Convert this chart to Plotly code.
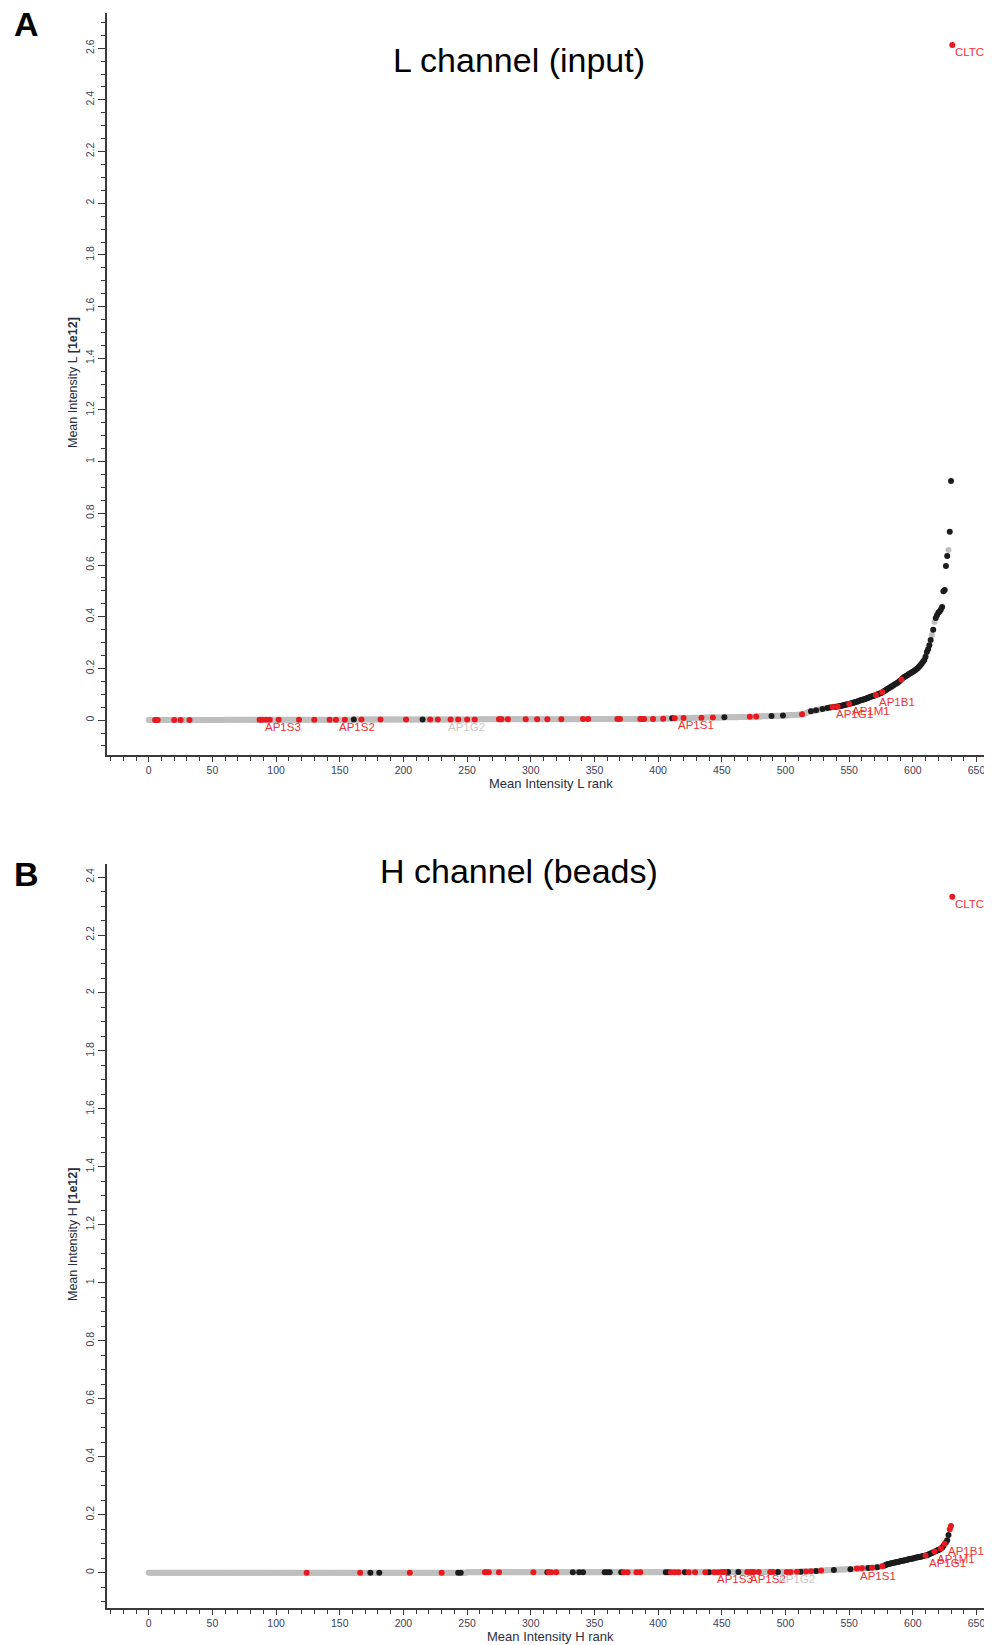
import plotly.graph_objects as go

# ---------------- Panel A : L channel (input) ----------------
# Mean intensity L, one value per rank 0..631, in units of 1e9 (= 0.001 x 1e12)
L_000_099 = [
    0,0,0,0,0,0,0,0,0,0,0,0,0,0,0,0,0,0,0,0,
    0,0,0,0,0,0,0,0,0,0,0,0,0,0,0,0,0,0,0,0,
    0,0,0,0,0,0,0,0,0,0,0,0,0,0,0,0,0,0,0,0,
    1,1,1,1,1,1,1,1,1,1,1,1,1,1,1,1,1,1,1,1,
    1,1,1,1,1,1,1,1,1,1,1,1,1,1,1,1,1,1,1,1]
L_100_199 = [
    1,1,1,1,1,1,1,1,1,1,1,1,1,1,1,1,1,1,1,1,
    1,1,1,1,1,1,1,1,1,1,1,1,1,1,1,1,1,1,1,1,
    1,1,1,1,1,1,1,1,1,1,1,1,1,1,1,1,1,1,1,1,
    2,2,2,2,2,2,2,2,2,2,2,2,2,2,2,2,2,2,2,2,
    2,2,2,2,2,2,2,2,2,2,2,2,2,2,2,2,2,2,2,2]
L_200_299 = [
    2,2,2,2,2,2,2,2,2,2,2,2,2,2,2,2,2,2,2,2,
    2,2,2,2,2,2,2,2,2,2,2,2,2,2,2,2,2,2,2,2,
    2,2,2,2,2,2,2,2,2,2,2,2,2,2,2,2,2,2,2,2,
    3,3,3,3,3,3,3,3,3,3,3,3,3,3,3,3,3,3,3,3,
    3,3,3,3,3,3,3,3,3,3,3,3,3,3,3,3,3,3,3,3]
L_300_399 = [
    3,3,3,3,3,3,3,3,3,3,3,3,3,3,3,3,3,3,3,3,
    3,3,3,3,3,3,3,3,3,3,3,3,3,3,3,3,3,3,3,3,
    4,4,4,4,4,4,4,4,4,4,4,4,4,4,4,4,4,4,4,4,
    4,4,4,4,4,4,4,4,4,4,4,4,4,4,4,4,4,4,4,4,
    4,4,4,4,4,4,4,4,4,4,4,4,4,4,4,4,4,4,4,4]
L_400_499 = [
    5,5,5,5,5,6,6,6,6,6,6,7,7,7,7,7,7,7,7,8,
    8,8,8,8,8,8,8,9,9,9,9,9,9,9,9,9,9,10,10,10,
    10,10,10,10,10,10,10,10,10,10,10,10,11,11,11,11,11,11,11,11,
    11,11,11,12,12,12,12,12,12,12,12,13,13,13,13,13,13,14,14,14,
    14,14,15,15,15,15,15,16,16,16,16,16,17,17,17,17,17,17,18,18]
L_500_599 = [
    18,18,19,19,19,20,20,20,21,21,21,22,22,23,24,25,27,29,31,33,
    34,35,36,37,38,39,40,41,42,43,44,45,46,47,48,49,50,51,51,52,
    52,53,54,55,56,57,58,59,60,61,62,64,65,67,68,70,71,73,75,77,
    78,80,81,83,85,87,88,90,92,93,95,97,99,101,103,105,108,111,114,117,
    120,123,126,129,132,136,139,142,145,148,153,157,162,166,169,172,175,178,181,184]
L_600_631 = [
    187,190,194,198,202,207,213,219,226,233,245,264,274,290,310,329,350,380,395,406,
    415,420,428,438,499,503,596,635,658,729,925,2612]

L_red = [5,6,7,20,25,32,87,89,92,95,102,118,130,142,147,154,167,182,202,221,227,
         237,243,250,256,275,276,277,282,296,305,313,324,341,345,368,370,386,387,
         389,396,404,413,420,434,443,472,477,513,537,541,550,571,576,591,631]
L_black = [161,215,411,452,489,498,520,524,529,533,535,539,540,542,543,544,545,
           546,547,548,549,551,552,553,554,555,556,557,558,559,560,561,562,563,
           564,565,566,567,568,569,570,572,573,574,575,577,578,579,580,581,582,
           583,584,585,586,587,588,589,590,592,593,594,595,596,597,598,599,600,
           601,602,603,604,605,606,607,608,609,610,611,612,613,614,616,618,619,
           620,621,622,623,624,625,626,627,629,630]
L_labels = ["AP1S3", "AP1S2", "AP1G2", "AP1S1", "AP1G1", "AP1M1", "AP1B1", "CLTC"]
L_label_ranks = [89, 147, 233, 413, 537, 550, 571, 631]

# ---------------- Panel B : H channel (beads) ----------------
H_000_099 = [
    0,0,0,0,0,0,0,0,0,0,0,0,0,0,0,0,0,0,0,0,
    0,0,0,0,0,0,0,0,0,0,0,0,0,0,0,0,0,0,0,0,
    0,0,0,0,0,0,0,0,0,0,0,0,0,0,0,0,0,0,0,0,
    0,0,0,0,0,0,0,0,0,0,0,0,0,0,0,0,0,0,0,0,
    0,0,0,0,0,0,0,0,0,0,0,0,0,0,0,0,0,0,0,0]
H_100_199 = [
    0,0,0,0,0,0,0,0,0,0,0,0,0,0,0,0,0,0,0,0,
    0,0,0,0,0,0,0,0,0,0,0,0,0,0,0,0,0,0,0,0,
    0,0,0,0,0,0,0,0,0,0,0,0,0,0,0,0,0,0,0,0,
    0,0,0,0,0,0,0,0,0,0,0,0,0,0,0,0,0,0,0,0,
    0,0,0,0,0,0,0,0,0,0,0,0,0,0,0,0,0,0,0,0]
H_200_299 = [
    0,0,0,0,0,0,0,0,0,0,0,0,0,0,0,0,0,0,0,0,
    0,0,0,0,0,0,0,0,0,0,0,0,0,0,0,0,0,0,0,0,
    0,0,0,0,0,0,0,0,0,0,1,1,1,1,1,1,1,1,1,1,
    1,1,1,1,1,1,1,1,1,1,1,1,1,1,1,1,1,1,1,1,
    1,1,1,1,1,1,1,1,1,1,1,1,1,1,1,1,1,1,1,1]
H_300_399 = [
    1,1,1,1,1,1,1,1,1,1,1,1,1,1,1,1,1,1,1,1,
    1,1,1,1,1,1,1,1,1,1,1,1,1,1,1,1,1,1,1,1,
    1,1,1,1,1,1,1,1,1,1,1,1,1,1,1,1,1,1,1,1,
    1,1,1,1,1,1,1,1,1,1,1,1,1,1,1,1,1,1,1,1,
    1,1,1,1,1,1,1,1,1,1,1,1,1,1,1,1,1,1,1,1]
H_400_499 = [
    1,1,1,1,1,1,1,1,1,1,1,1,1,1,1,1,1,1,1,1,
    1,1,1,1,1,1,1,1,1,1,1,1,1,1,1,1,1,1,1,1,
    1,1,1,1,1,1,1,1,1,1,2,2,2,2,2,2,2,2,2,2,
    2,2,2,2,2,2,2,2,2,2,2,2,2,2,2,2,2,2,2,2,
    2,2,2,2,2,2,2,2,2,2,2,2,2,2,2,2,2,2,2,2]
H_500_599 = [
    2,2,2,2,2,3,3,3,3,3,3,3,3,4,4,4,4,4,4,5,
    5,5,5,5,6,6,6,6,7,7,7,7,8,8,8,8,9,9,9,10,
    10,10,10,11,11,11,11,12,12,12,12,12,13,13,13,13,14,14,14,14,
    15,15,15,16,16,16,17,17,17,18,18,19,19,20,20,21,22,23,25,27,
    29,30,31,32,33,34,35,36,37,38,39,40,41,42,43,44,45,46,47,48]
H_600_631 = [
    49,50,51,52,53,54,55,56,57,58,59,60,62,64,66,68,70,72,74,76,
    78,80,83,86,92,100,104,112,130,150,161,2332]

H_red = [124,166,205,230,264,265,267,275,302,314,316,320,373,376,383,386,410,413,
         416,424,429,437,444,447,450,452,470,473,475,479,488,490,501,504,509,516,
         520,528,556,560,568,576,610,617,622,625,629,630,631]
H_black = [174,181,243,245,313,333,338,341,358,360,362,371,406,408,421,440,455,
           463,494,512,524,538,551,565,572,578,579,580,581,582,583,584,585,586,
           587,588,589,590,591,592,593,594,595,596,597,598,599,600,601,602,603,
           604,605,606,607,608,609,611,612,613,614,615,616,618,619,620,621,623,
           624,626,627,628]
H_labels = ["AP1S3", "AP1S2", "AP1G2", "AP1S1", "AP1G1", "AP1M1", "AP1B1", "CLTC"]
H_label_ranks = [444, 470, 492, 556, 610, 617, 625, 631]

# ---------------- styling ----------------
RED, BLACK, GRAY = "#e8191f", "#1c1c1c", "#bfbfbf"
RED_TXT, GRAY_TXT = "#ef3036", "#c6c6c6"
FONT = "Liberation Sans, Arial, sans-serif"
AX_COL = "#3a3a3a"
TICK_TXT = "#3b4258"
OFF = 8                      # page body margin of the html page
W, H = 992 - OFF, 1645 - OFF  # figure size so that it fits the window


def px(x):
    return (x - OFF) / W


def py(y):
    return 1 - (y - OFF) / H


L_values = [v / 1000 for v in L_000_099 + L_100_199 + L_200_299 + L_300_399 +
            L_400_499 + L_500_599 + L_600_631]
H_values = [v / 1000 for v in H_000_099 + H_100_199 + H_200_299 + H_300_399 +
            H_400_499 + H_500_599 + H_600_631]
assert len(L_values) == 632, len(L_values)
assert len(H_values) == 632, len(H_values)

fig = go.Figure()
annotations = []


def add_panel(values, red, black, labels, label_ranks, xa, ya):
    ranks = list(range(len(values)))
    rs, bs = set(red), set(black)
    gray = [r for r in ranks if r not in rs and r not in bs]
    for group, col in ((gray, GRAY), (sorted(bs), BLACK), (sorted(rs), RED)):
        fig.add_trace(go.Scatter(
            x=group, y=[values[r] for r in group], mode="markers",
            marker=dict(color=col, size=6, line=dict(width=0)),
            xaxis=xa, yaxis=ya, showlegend=False, hoverinfo="skip"))
    for name, r in zip(labels, label_ranks):
        annotations.append(dict(
            x=r, y=values[r], xref=xa, yref=ya, text=name, showarrow=False,
            xanchor="left", yanchor="top", xshift=1, yshift=1,
            font=dict(family=FONT, size=11.5, color=RED_TXT if r in rs else GRAY_TXT)))


add_panel(L_values, L_red, L_black, L_labels, L_label_ranks, "x", "y")
add_panel(H_values, H_red, H_black, H_labels, H_label_ranks, "x2", "y2")


def xaxis_cfg(anchor):
    return dict(domain=[px(107), px(990)], range=[-32.8, 660.6], anchor=anchor,
                showline=True, linecolor=AX_COL, linewidth=1.5, showgrid=False,
                zeroline=False, ticks="outside", ticklen=5, tickwidth=1,
                tickcolor=AX_COL, tick0=0, dtick=50,
                tickfont=dict(family=FONT, size=10.5, color=TICK_TXT),
                minor=dict(dtick=10, tick0=0, ticks="outside", ticklen=4,
                           tickcolor=AX_COL, tickwidth=1))


def yaxis_cfg(anchor, dom, rng):
    return dict(domain=dom, range=rng, anchor=anchor, showline=True,
                linecolor=AX_COL, linewidth=1.5, showgrid=False, zeroline=False,
                ticks="outside", ticklen=7, tickwidth=1, tickcolor=AX_COL,
                tick0=0, dtick=0.2, tickangle=-90,
                tickfont=dict(family=FONT, size=10.5, color=TICK_TXT),
                minor=dict(dtick=0.05, tick0=0, ticks="outside", ticklen=4,
                           tickcolor=AX_COL, tickwidth=1))


def ann(x, y, text, size, color="black", angle=0, xanchor="center"):
    return dict(x=px(x), y=py(y), xref="paper", yref="paper", text=text,
                showarrow=False, xanchor=xanchor, yanchor="middle",
                textangle=angle, font=dict(family=FONT, size=size, color=color))


annotations += [
    ann(12, 24, "<b>A</b>", 34, xanchor="left"),
    ann(12, 874, "<b>B</b>", 34, xanchor="left"),
    ann(519, 60, "L channel (input)", 34),
    ann(519, 871, "H channel (beads)", 34),
    ann(73, 383, "Mean Intensity L <b>[1e12]</b>", 12.5, "#2a2f40", -90),
    ann(73, 1235, "Mean Intensity H <b>[1e12]</b>", 12.5, "#2a2f40", -90),
    ann(550.5, 784, "Mean Intensity L rank", 13, "#2a2f40"),
    ann(550.5, 1636, "Mean Intensity H rank", 13, "#2a2f40"),
]

fig.update_layout(
    width=W, height=H, margin=dict(l=0, r=0, t=0, b=0),
    paper_bgcolor="white", plot_bgcolor="white", showlegend=False,
    xaxis=xaxis_cfg("y"),
    yaxis=yaxis_cfg("x", [py(755), py(13.3)], [-0.135, 2.735]),
    xaxis2=xaxis_cfg("y2"),
    yaxis2=yaxis_cfg("x2", [py(1608), py(864)], [-0.122, 2.445]),
    annotations=annotations,
)

fig.write_html("out.html")
